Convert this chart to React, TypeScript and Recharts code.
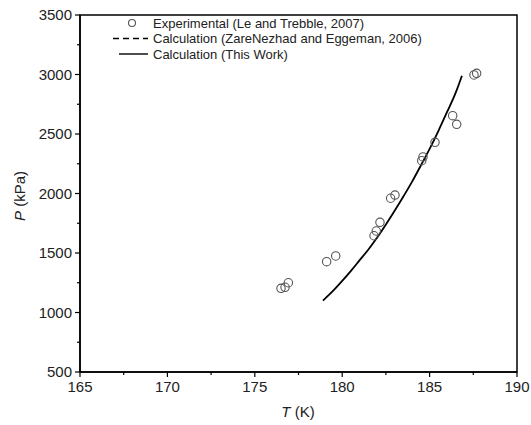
import React from 'react';
import { ComposedChart, Line, Scatter, XAxis, YAxis, ReferenceArea, Legend } from 'recharts';

// Experimental (Le and Trebble, 2007)
const expT = [176.5, 176.73, 176.92, 179.11, 179.63, 181.82, 181.95, 182.16, 182.77, 183.02, 184.55, 184.62, 185.31, 186.32, 186.55, 187.54, 187.69];
const expP = [1203, 1212, 1250, 1427, 1475, 1645, 1685, 1758, 1960, 1987, 2276, 2307, 2430, 2654, 2581, 2996, 3010];

// Calculation (This Work)
const calcT = [178.9, 179.5, 180.0, 180.5, 181.0, 181.5, 182.0, 182.5, 183.0, 183.5, 184.0, 184.5, 185.0, 185.5, 186.0, 186.5, 186.85];
const calcP = [1100, 1185, 1265, 1350, 1440, 1530, 1630, 1740, 1855, 1975, 2100, 2235, 2375, 2525, 2685, 2850, 2990];

const xMajorTicks = [165, 170, 175, 180, 185, 190];
const xMinorTicks = [167.5, 172.5, 177.5, 182.5, 187.5];
const yMajorTicks = [500, 1000, 1500, 2000, 2500, 3000, 3500];
const yMinorTicks = [750, 1250, 1750, 2250, 2750, 3250];

const legendLabels = [
  'Experimental (Le and Trebble, 2007)',
  'Calculation (ZareNezhad and Eggeman, 2006)',
  'Calculation (This Work)',
];

const expData = expT.map((T, i) => ({ T, P: expP[i] }));
const calcData = calcT.map((T, i) => ({ T, P: calcP[i] }));

const FONT = '"Liberation Sans", Arial, sans-serif';
const TS = 5;
const TM = 3;

const XTick = (props: any) => {
  const { x, y, payload } = props;
  const major = xMajorTicks.includes(payload.value);
  const axisY = y - TS - TM;
  return (
    <g>
      <line x1={x} x2={x} y1={axisY} y2={axisY + (major ? 5 : 3)} stroke="#000" strokeWidth={1.2} />
      {major && (
        <text x={x} y={axisY + 8} dy="0.8em" textAnchor="middle" fontFamily={FONT} fontSize={15} fill="#222">
          {payload.value}
        </text>
      )}
    </g>
  );
};

const YTick = (props: any) => {
  const { x, y, payload } = props;
  const major = yMajorTicks.includes(payload.value);
  const axisX = x + TS + TM;
  return (
    <g>
      <line x1={axisX - (major ? 5 : 3)} x2={axisX} y1={y} y2={y} stroke="#000" strokeWidth={1.2} />
      {major && (
        <text x={axisX - 8} y={y} dy="0.35em" textAnchor="end" fontFamily={FONT} fontSize={15} fill="#222">
          {payload.value}
        </text>
      )}
    </g>
  );
};

const Circle = (props: any) => {
  const { cx, cy } = props;
  return <circle cx={cx} cy={cy} r={4.2} fill="none" stroke="#555" strokeWidth={1.1} />;
};

const LegendContent = () => {
  const rows = [23, 38.5, 54];
  return (
    <svg width={531} height={80} style={{ display: 'block' }}>
      <circle cx={132} cy={rows[0]} r={3.5} fill="none" stroke="#555" strokeWidth={1.1} />
      <line x1={113} x2={148} y1={rows[1]} y2={rows[1]} stroke="#000" strokeWidth={1.4} strokeDasharray="6 4" />
      <line x1={119} x2={148} y1={rows[2]} y2={rows[2]} stroke="#000" strokeWidth={1.4} />
      {legendLabels.map((l, i) => (
        <text key={l} x={153} y={rows[i]} dy="0.35em" fontFamily={FONT} fontSize={13} fill="#222">
          {l}
        </text>
      ))}
    </svg>
  );
};

export default function App() {
  return (
    <div style={{ position: 'relative', width: 531, height: 425, background: '#fff' }}>
      <style>{`body{margin:0;background:#fff}`}</style>
      <ComposedChart width={531} height={425} margin={{ top: 15, right: 14, bottom: 0, left: 0 }}>
        <XAxis
          dataKey="T"
          type="number"
          domain={[165, 190]}
          ticks={[...xMajorTicks, ...xMinorTicks].sort((a, b) => a - b)}
          interval={0}
          tickSize={TS}
          tickMargin={TM}
          tickLine={false}
          tick={<XTick />}
          height={53}
          axisLine={{ stroke: '#000', strokeWidth: 1.5 }}
          allowDataOverflow
        />
        <YAxis
          dataKey="P"
          type="number"
          domain={[500, 3500]}
          ticks={[...yMajorTicks, ...yMinorTicks].sort((a, b) => a - b)}
          interval={0}
          tickSize={TS}
          tickMargin={TM}
          tickLine={false}
          tick={<YTick />}
          width={80}
          axisLine={{ stroke: '#000', strokeWidth: 1.5 }}
          allowDataOverflow
        />
        <ReferenceArea x1={165} x2={190} y1={500} y2={3500} fill="none" stroke="#000" strokeWidth={1.5} fillOpacity={0} ifOverflow="visible" />
        <Legend
          layout="vertical"
          align="center"
          verticalAlign="middle"
          content={<LegendContent />}
          wrapperStyle={{ position: 'absolute', left: 0, top: 0, width: 531, height: 80, pointerEvents: 'none' }}
        />
        <Line data={calcData} dataKey="P" type="monotone" stroke="#000" strokeWidth={1.8} dot={false} isAnimationActive={false} legendType="none" />
        <Scatter data={expData} dataKey="P" shape={<Circle />} isAnimationActive={false} legendType="none" />
      </ComposedChart>
      <svg width={531} height={425} style={{ position: 'absolute', left: 0, top: 0, pointerEvents: 'none' }}>
        <text x={298} y={417} textAnchor="middle" fontFamily={FONT} fontSize={15} fill="#222">
          <tspan fontStyle="italic">T</tspan>
          <tspan> (K)</tspan>
        </text>
        <text x={0} y={0} transform="translate(25,196) rotate(-90)" textAnchor="middle" fontFamily={FONT} fontSize={15} fill="#222">
          <tspan fontStyle="italic">P</tspan>
          <tspan> (kPa)</tspan>
        </text>
      </svg>
    </div>
  );
}
